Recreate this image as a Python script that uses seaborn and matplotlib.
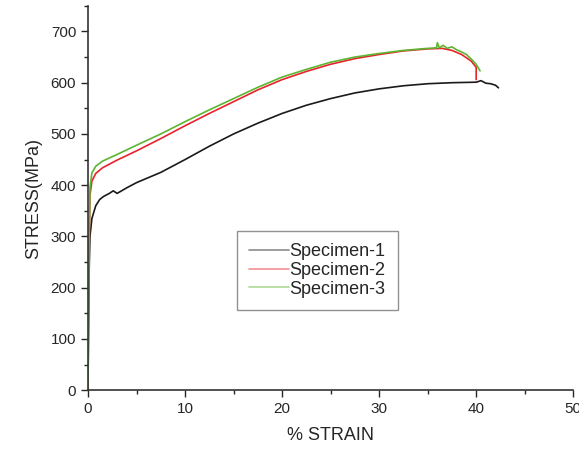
import numpy as np
import pandas as pd
import matplotlib.pyplot as plt
import seaborn as sns
from matplotlib.ticker import MultipleLocator

# values
strain_1 = [0, 0.05, 0.1, 0.2, 0.4, 0.8, 1.2, 1.6, 2.2, 2.6, 3.0, 4, 5, 7.5, 10, 12.5,
            15, 17.5, 20, 22.5, 25, 27.5, 30, 32.5, 35, 37.5, 40, 40.5, 41, 41.5, 42, 42.3]
stress_1 = [0, 120, 220, 300, 335, 360, 372, 378, 384, 389, 384, 395, 405, 425, 450,
            476, 500, 521, 540, 556, 569, 580, 588, 594, 598, 600, 601, 604, 599, 598,
            595, 590]

strain_2 = [0, 0.05, 0.1, 0.2, 0.4, 0.8, 1.5, 3, 5, 7.5, 10, 12.5, 15, 17.5, 20, 22.5,
            25, 27.5, 30, 32.5, 35, 36.5, 37.5, 38.5, 39.5, 40, 40]
stress_2 = [0, 150, 260, 380, 408, 423, 434, 449, 467, 491, 516, 540, 563, 586, 606,
            622, 636, 647, 655, 662, 666, 667, 663, 655, 642, 630, 606]

strain_3 = [0, 0.05, 0.1, 0.2, 0.4, 0.8, 1.5, 3, 5, 7.5, 10, 12.5, 15, 17.5, 20, 22.5,
            25, 27.5, 30, 32.5, 35, 35.9, 36.0, 36.2, 36.6, 37, 37.5, 38, 38.5, 39,
            39.5, 40, 40.4]
stress_3 = [0, 160, 270, 395, 424, 437, 447, 460, 478, 500, 524, 547, 569, 591, 611,
            626, 640, 650, 657, 663, 667, 668, 678, 668, 673, 667, 670, 664, 660, 655,
            646, 636, 623]

specimens = ["Specimen-1", "Specimen-2", "Specimen-3"]
colors = ["#1a1a1a", "#e8232b", "#5cb531"]

df = pd.concat([
    pd.DataFrame({"strain": s, "stress": t, "specimen": name})
    for s, t, name in zip([strain_1, strain_2, strain_3],
                          [stress_1, stress_2, stress_3], specimens)
])

sns.set_style("ticks")
plt.rcParams["font.family"] = ["Liberation Sans", "DejaVu Sans"]

fig = plt.figure(figsize=(5.79, 4.49), dpi=100)
ax = fig.add_axes([0.152, 0.131, 0.838, 0.856])

sns.lineplot(data=df, x="strain", y="stress", hue="specimen", palette=colors,
             sort=False, estimator=None, linewidth=1.2, ax=ax)

ax.set_xlim(0, 50)
ax.set_ylim(0, 750)
ax.set_yticks(range(0, 701, 100))
ax.xaxis.set_major_locator(MultipleLocator(10))
ax.xaxis.set_minor_locator(MultipleLocator(5))
ax.yaxis.set_minor_locator(MultipleLocator(50))
ax.tick_params(which="major", direction="out", length=5, width=1, labelsize=11)
ax.tick_params(which="minor", direction="out", length=3, width=1)
for side in ["top", "right"]:
    ax.spines[side].set_visible(False)
for side in ["left", "bottom"]:
    ax.spines[side].set_color("#333333")
    ax.spines[side].set_linewidth(1.2)

ax.set_xlabel("% STRAIN", fontsize=13, labelpad=8)
ax.set_ylabel("STRESS(MPa)", fontsize=13, labelpad=6)

leg = ax.legend(loc="lower left", bbox_to_anchor=(0.288, 0.184), fontsize=13,
                frameon=True, fancybox=False, handlelength=2.2, handletextpad=0.0,
                borderpad=0.7, labelspacing=0.1)
leg.get_frame().set_edgecolor("#777777")
leg.get_frame().set_linewidth(1.0)
for line in leg.get_lines():
    line.set_alpha(0.5)
    line.set_linewidth(1.2)

fig.savefig("out.png", dpi=100)
